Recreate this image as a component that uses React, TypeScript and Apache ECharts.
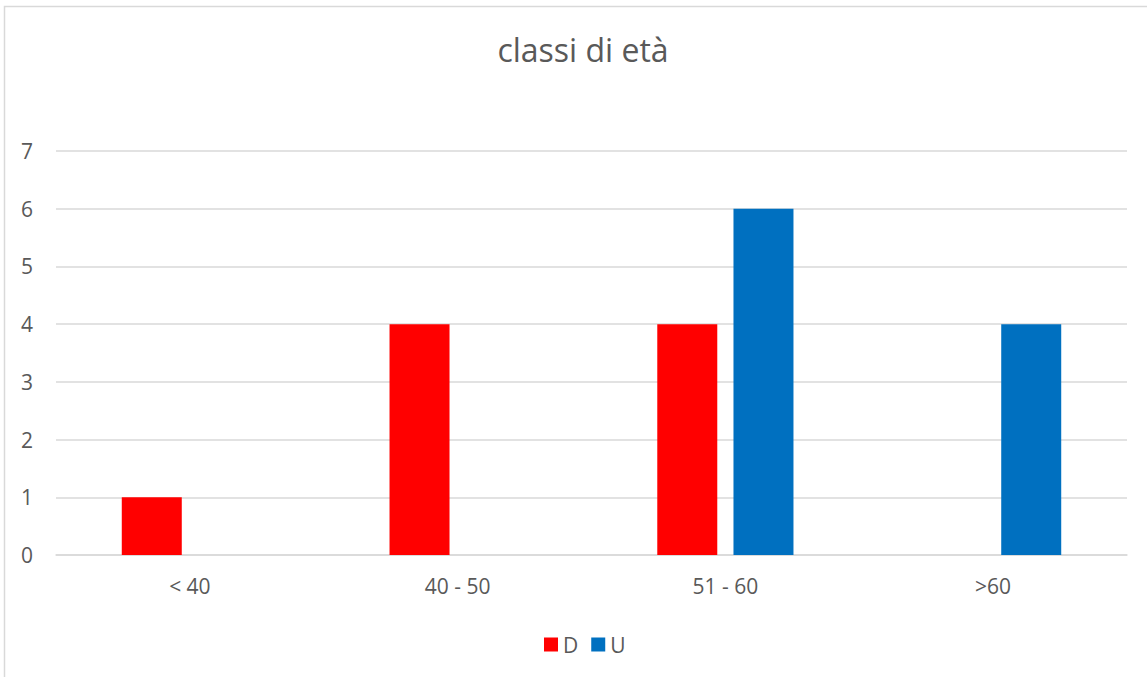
import React, { useEffect, useRef } from "react";
import * as echarts from "echarts";

const categories = ["< 40", "40 - 50", "51 - 60", ">60"];
const seriesD = [1, 4, 4, null];
const seriesU = [null, null, 6, 4];
const yTicks = { min: 0, max: 7, interval: 1 };
const titleText = "classi di età";

const FONT = "'Open Sans', Lato, sans-serif";
const TXT = "#595959";

export default function App() {
  const ref = useRef<HTMLDivElement>(null);
  useEffect(() => {
    if (!ref.current) return;
    const chart = echarts.init(ref.current, null, { renderer: "svg" });
    chart.setOption({
      animation: false,
      backgroundColor: "#ffffff",
      textStyle: { fontFamily: FONT },
      title: {
        text: titleText,
        left: 578,
        top: 28,
        textAlign: "center",
        textStyle: { fontFamily: FONT, fontSize: 32, fontWeight: "normal", color: TXT },
      },
      graphic: [
        {
          type: "rect",
          shape: { x: 4.5, y: 6.5, width: 1200, height: 800 },
          style: { fill: "none", stroke: "#d9d9d9", lineWidth: 1.5 },
          silent: true,
        },
      ],
      legend: {
        data: ["D", "U"],
        left: 539,
        top: 629,
        itemWidth: 14,
        itemHeight: 14,
        itemGap: 13,
        icon: "rect",
        textStyle: { fontFamily: FONT, fontSize: 21, color: TXT },
      },
      grid: { left: 56, right: 20, top: 151, bottom: 122, containLabel: false },
      xAxis: {
        type: "category",
        data: categories,
        axisLine: { show: true, lineStyle: { color: "#d9d9d9", width: 1.5 } },
        axisTick: { show: false },
        axisLabel: { fontFamily: FONT, fontSize: 21, color: TXT, margin: 20 },
      },
      yAxis: {
        type: "value",
        min: yTicks.min,
        max: yTicks.max,
        interval: yTicks.interval,
        axisLine: { show: false },
        axisTick: { show: false },
        splitLine: { lineStyle: { color: "#d9d9d9", width: 1.5 } },
        axisLabel: { fontFamily: FONT, fontSize: 21, color: TXT, margin: 23 },
      },
      series: [
        {
          name: "D",
          type: "bar",
          data: seriesD,
          barWidth: 60,
          barGap: "27%",
          itemStyle: { color: "#ff0000" },
        },
        {
          name: "U",
          type: "bar",
          data: seriesU,
          barWidth: 60,
          barGap: "27%",
          itemStyle: { color: "#0070c0" },
        },
      ],
    });
    return () => chart.dispose();
  }, []);
  return (
    <div
      ref={ref}
      style={{ position: "fixed", left: 0, top: 0, width: 1147, height: 677 }}
    />
  );
}
